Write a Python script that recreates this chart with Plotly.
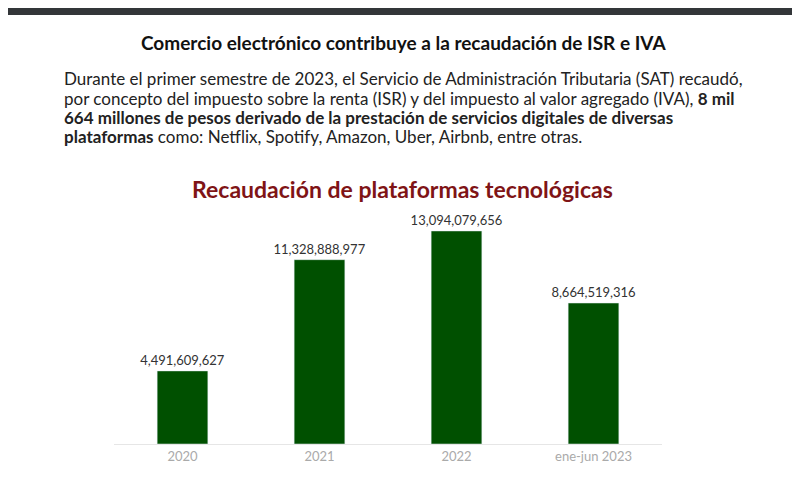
import plotly.graph_objects as go

categories = ["2020", "2021", "2022", "ene-jun 2023"]
values = [4491609627, 11328888977, 13094079656, 8664519316]
labels = ["4,491,609,627", "11,328,888,977", "13,094,079,656", "8,664,519,316"]

OFF = 8
L, R, T, B = 114 - OFF, 138 + OFF, 175 - OFF, 41 + OFF
W, H = 800, 485
pw, ph = W - L - R, H - T - B
def px(x): return (x - OFF - L) / pw
def py(y): return (H - B - (y - OFF)) / ph

fig = go.Figure(go.Bar(
    x=categories, y=values, marker_color="#005000", text=labels,
    textposition="outside", cliponaxis=False, constraintext="none",
    textfont=dict(family="Lato", size=13, color="#333333"),
    hoverinfo="skip"))

ann = []
ann.append(dict(text="<b>Comercio electrónico contribuye a la recaudación de ISR e IVA</b>",
                x=px(403), y=py(42), font=dict(family="Lato", size=19, color="#111111")))
lines = [
    "Durante el primer semestre de 2023, el Servicio de Administración Tributaria (SAT) recaudó,",
    "por concepto del impuesto sobre la renta (ISR) y del impuesto al valor agregado (IVA), <b>8 mil</b>",
    "<b>664 millones de pesos derivado de la prestación de servicios digitales de diversas</b>",
    "<b>plataformas</b> como: Netflix, Spotify, Amazon, Uber, Airbnb, entre otras.",
]
for i, t in enumerate(lines):
    ann.append(dict(text=t, x=px(62), y=py(79 + 19 * i), xanchor="left",
                    font=dict(family="Lato", size=17, color="#222222")))
ann.append(dict(text="<b>Recaudación de plataformas tecnológicas</b>",
                x=px(402), y=py(189), font=dict(family="Lato", size=23, color="#7f1416")))
for a in ann:
    a.update(xref="paper", yref="paper", showarrow=False, yanchor="middle")
    a.setdefault("xanchor", "center")

fig.update_layout(
    width=W, height=H, margin=dict(l=L, r=R, t=T, b=B),
    paper_bgcolor="white", plot_bgcolor="white", showlegend=False,
    bargap=0.63, annotations=ann,
    shapes=[dict(type="rect", xref="paper", yref="paper", x0=px(0), x1=px(W + 20),
                 y0=py(15), y1=py(-10), fillcolor="#333639", line_width=0, layer="above")],
    xaxis=dict(showline=True, linecolor="#e6e6e6", linewidth=1, ticks="",
               tickfont=dict(family="Lato", size=13, color="#aaaaaa")),
    yaxis=dict(range=[0, ph / 16.27 * 1e9], visible=False, showgrid=False),
)
fig.write_html("out.html")
